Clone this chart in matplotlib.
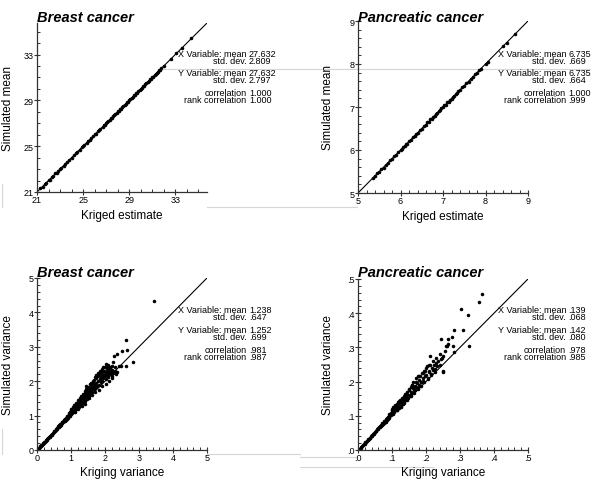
"""Kriged vs simulated mean and variance, breast and pancreatic cancer."""

import matplotlib
matplotlib.use('Agg')
import matplotlib.pyplot as plt
from matplotlib.lines import Line2D
from matplotlib.ticker import FixedLocator

plt.rcParams['font.family'] = ['Liberation Sans', 'DejaVu Sans']

# ---- data ----
breast_mean_krig = [21.3, 21.5, 21.7, 21.8, 22.0, 22.1, 22.3, 22.4, 22.6, 22.7,
                    22.8, 23.0, 23.1, 23.3, 23.4, 23.6, 23.8, 24.0, 24.2, 24.4,
                    24.5, 24.7, 24.9, 25.0, 25.1, 25.3, 25.4, 25.6, 25.7, 25.9,
                    26.0, 26.1, 26.3, 26.4, 26.5, 26.7, 26.8, 26.9, 27.0, 27.1,
                    27.2, 27.3, 27.4, 27.5, 27.6, 27.7, 27.8, 27.9, 28.0, 28.1,
                    28.2, 28.3, 28.4, 28.5, 28.6, 28.7, 28.8, 28.9, 29.0, 29.1,
                    29.2, 29.3, 29.4, 29.5, 29.6, 29.7, 29.8, 29.9, 30.0, 30.1,
                    30.2, 30.3, 30.4, 30.5, 30.6, 30.7, 30.8, 30.9, 31.0, 31.1,
                    31.2, 31.3, 31.4, 31.5, 31.6, 31.7, 31.8, 32.0, 32.6, 33.1,
                    33.6, 34.4]
breast_mean_sim = [21.32, 21.47, 21.73, 21.78, 22.04, 22.08, 22.33, 22.37, 22.62, 22.68,
                   22.84, 22.97, 23.12, 23.27, 23.43, 23.58, 23.83, 23.97, 24.22, 24.38,
                   24.53, 24.68, 24.93, 24.98, 25.13, 25.28, 25.43, 25.57, 25.73, 25.88,
                   26.03, 26.08, 26.33, 26.37, 26.53, 26.68, 26.83, 26.88, 27.03, 27.07,
                   27.23, 27.28, 27.43, 27.47, 27.63, 27.68, 27.83, 27.87, 28.03, 28.08,
                   28.23, 28.27, 28.43, 28.47, 28.63, 28.68, 28.83, 28.87, 29.03, 29.08,
                   29.23, 29.27, 29.43, 29.47, 29.63, 29.68, 29.83, 29.87, 30.03, 30.08,
                   30.23, 30.27, 30.43, 30.47, 30.63, 30.67, 30.83, 30.87, 31.03, 31.07,
                   31.23, 31.27, 31.42, 31.47, 31.62, 31.67, 31.82, 31.98, 32.6, 33.12,
                   33.6, 34.42]

panc_mean_krig = [5.35, 5.4, 5.45, 5.5, 5.55, 5.6, 5.65, 5.7, 5.75, 5.8,
                  5.85, 5.9, 5.95, 6.0, 6.03, 6.06, 6.1, 6.13, 6.16, 6.2,
                  6.25, 6.3, 6.33, 6.36, 6.4, 6.45, 6.5, 6.55, 6.6, 6.63,
                  6.66, 6.7, 6.73, 6.76, 6.8, 6.83, 6.86, 6.9, 6.93, 6.96,
                  7.0, 7.03, 7.06, 7.1, 7.13, 7.16, 7.2, 7.23, 7.26, 7.3,
                  7.33, 7.36, 7.4, 7.45, 7.5, 7.55, 7.6, 7.65, 7.7, 7.75,
                  7.8, 7.85, 7.9, 8.0, 8.05, 8.4, 8.5, 8.7]
panc_mean_sim = [5.36, 5.39, 5.46, 5.49, 5.56, 5.59, 5.66, 5.69, 5.76, 5.79,
                 5.86, 5.89, 5.96, 6.01, 6.02, 6.07, 6.09, 6.14, 6.15, 6.21,
                 6.24, 6.31, 6.32, 6.37, 6.39, 6.46, 6.49, 6.56, 6.59, 6.64,
                 6.65, 6.71, 6.72, 6.77, 6.79, 6.84, 6.85, 6.91, 6.92, 6.97,
                 6.99, 7.04, 7.05, 7.11, 7.12, 7.17, 7.19, 7.24, 7.25, 7.31,
                 7.32, 7.37, 7.39, 7.46, 7.49, 7.56, 7.59, 7.66, 7.69, 7.76,
                 7.79, 7.86, 7.89, 8.01, 8.04, 8.41, 8.5, 8.69]

breast_var_krig = [0.03, 0.05, 0.07, 0.09, 0.1, 0.12, 0.13, 0.15, 0.17, 0.18,
                   0.2, 0.22, 0.23, 0.25, 0.27, 0.28, 0.3, 0.32, 0.33, 0.35,
                   0.37, 0.39, 0.41, 0.43, 0.45, 0.47, 0.49, 0.51, 0.53, 0.55,
                   0.57, 0.59,
                   0.6, 0.62, 0.63, 0.65, 0.66, 0.68, 0.69, 0.7, 0.72, 0.73,
                   0.74, 0.75, 0.77, 0.78, 0.79, 0.8, 0.82, 0.83, 0.84, 0.85,
                   0.86, 0.87, 0.88, 0.89, 0.9, 0.91, 0.92, 0.93, 0.94, 0.95,
                   0.96, 0.97, 0.98, 0.99, 1.0, 1.01, 1.02, 1.03, 1.04, 1.05,
                   1.06, 1.07, 1.08, 1.09, 1.1, 1.11, 1.12, 1.13, 1.14, 1.15,
                   1.16, 1.17, 1.18, 1.19, 1.2, 1.21, 1.22, 1.23, 1.24, 1.25,
                   1.26, 1.27, 1.28, 1.29, 1.3,
                   1.31, 1.32, 1.33, 1.34, 1.35, 1.36, 1.37, 1.38, 1.39, 1.4,
                   1.41, 1.42, 1.43, 1.44, 1.45, 1.46, 1.47, 1.48, 1.49, 1.5,
                   1.51, 1.52, 1.53, 1.55, 1.56, 1.57, 1.58, 1.6, 1.61, 1.62,
                   1.63, 1.65, 1.66, 1.68, 1.7,
                   1.69, 1.72, 1.74, 1.75, 1.77, 1.78, 1.8, 1.82, 1.84, 1.85,
                   1.87, 1.88, 1.9, 1.92, 1.94, 1.95, 1.97, 1.99, 2.0, 2.02,
                   2.04, 2.05, 2.07, 2.09, 2.1, 2.12, 2.14, 2.16, 2.18, 2.2,
                   2.22, 2.25, 2.28, 2.32, 2.36,
                   2.03, 2.25, 2.26, 2.35, 2.47, 2.51, 2.61, 2.62, 2.65, 2.81,
                   3.44, 2.1, 2.4,
                   0.82, 0.88, 0.95, 1.0, 1.05, 1.1, 1.15, 1.2, 1.25, 1.3,
                   1.35, 1.4, 1.45, 1.5, 1.55, 1.6, 1.65, 1.7, 1.75, 1.8,
                   1.85, 1.9, 1.95, 2.0, 2.05, 2.1, 2.15, 2.2, 2.3, 1.12,
                   1.22, 1.32, 1.42, 1.52, 1.62, 1.72, 1.82, 1.92, 2.02, 2.12,
                   2.22]
breast_var_sim = [0.02, 0.05, 0.07, 0.09, 0.11, 0.12, 0.14, 0.15, 0.18, 0.19,
                  0.21, 0.23, 0.24, 0.26, 0.28, 0.3, 0.31, 0.34, 0.35, 0.37,
                  0.38, 0.41, 0.43, 0.45, 0.47, 0.49, 0.51, 0.54, 0.55, 0.58,
                  0.6, 0.62,
                  0.64, 0.66, 0.7, 0.68, 0.72, 0.71, 0.76, 0.74, 0.75, 0.8,
                  0.78, 0.82, 0.8, 0.86, 0.83, 0.88, 0.85, 0.9, 0.87, 0.92,
                  0.9, 0.95, 0.91, 0.97, 0.93, 1.0, 0.96, 1.03, 0.98, 1.06,
                  1.02, 1.1, 0.99, 1.14, 1.05, 1.2, 1.08, 1.15, 1.12, 1.22,
                  1.1, 1.18, 1.26, 1.13, 1.21, 1.16, 1.3, 1.2, 1.25, 1.19,
                  1.34, 1.24, 1.28, 1.22, 1.36, 1.27, 1.31, 1.4, 1.25, 1.33,
                  1.3, 1.42, 1.35, 1.38, 1.32,
                  1.45, 1.38, 1.52, 1.41, 1.48, 1.36, 1.56, 1.46, 1.6, 1.5,
                  1.43, 1.66, 1.53, 1.85, 1.58, 1.49, 1.62, 1.7, 1.55, 1.64,
                  1.75, 1.58, 1.68, 1.8, 1.62, 1.72, 1.9, 1.66, 1.78, 1.85,
                  1.7, 1.82, 1.95, 1.76, 1.88,
                  2.04, 1.8, 1.95, 2.1, 1.86, 2.0, 2.15, 1.9, 2.05, 2.22,
                  1.98, 2.12, 2.26, 2.02, 2.18, 2.08, 2.3, 2.14, 2.22, 2.05,
                  2.28, 2.18, 2.35, 2.12, 2.24, 2.3, 2.2, 2.38, 2.26, 2.16,
                  2.32, 2.25, 2.3, 2.22, 2.28,
                  2.5, 2.57, 2.72, 2.79, 2.43, 2.87, 2.43, 3.21, 2.91, 2.57,
                  4.34, 2.47, 2.45,
                  0.9, 0.98, 1.08, 1.16, 1.24, 1.3, 1.38, 1.46, 1.5, 1.58,
                  1.64, 1.72, 1.76, 1.82, 1.92, 1.96, 2.02, 2.12, 2.18, 2.25,
                  2.3, 2.35, 2.42, 2.4, 2.44, 2.38, 2.42, 2.45, 2.4, 1.1,
                  1.18, 1.28, 1.35, 1.5, 1.6, 1.68, 1.75, 1.86, 1.92, 2.02,
                  2.1]

panc_var_krig = [.005, .008, .01, .012, .015, .017, .02, .022, .024, .026,
                 .028, .03, .032, .034, .036, .038, .04, .042, .044, .046,
                 .048, .05, .052, .054, .056, .058, .06,
                 .062, .064, .065, .067, .068, .07, .071, .073, .074, .075,
                 .077, .078, .08, .081, .082, .084, .085, .087, .088, .09,
                 .091, .092, .094, .095, .097, .098, .1,
                 .101, .103, .104, .106, .107, .108, .11, .111, .112, .114,
                 .115, .116, .118, .119, .12, .122, .123, .124, .126, .127,
                 .128, .13, .131, .132, .134, .135, .136, .138, .139, .14,
                 .142, .143, .144, .146, .148, .15,
                 .151, .153, .155, .156, .158, .16, .162, .163, .165, .167,
                 .169, .17, .172, .174, .176, .178, .18, .182, .184, .186,
                 .188, .19, .192, .195, .197, .2, .202, .205, .208, .21,
                 .213, .215, .218, .22,
                 .223, .226, .23, .233, .236, .24, .243, .246, .25, .251,
                 .255, .26, .266, .275, .243, .261, .249, .212, .197, .177,
                 .158,
                 .364, .356, .303, .323, .310, .282, .327, .282, .266, .278,
                 .09, .1, .11, .12, .13, .14, .15, .16, .17, .18,
                 .19, .2, .21, .22, .23, .24, .115, .125, .135, .145,
                 .155, .165, .175, .185, .195, .205, .215, .225]
panc_var_sim = [.004, .007, .01, .012, .014, .017, .019, .022, .024, .025,
                .028, .031, .033, .035, .036, .04, .042, .043, .046, .048,
                .051, .052, .055, .056, .06, .061, .064,
                .066, .07, .068, .074, .071, .073, .079, .076, .08, .078,
                .084, .082, .086, .083, .09, .088, .094, .09, .097, .095,
                .1, .098, .104, .101, .108, .103, .112,
                .118, .106, .125, .112, .12, .13, .116, .128, .122, .135,
                .118, .132, .126, .14, .124, .136, .145, .13, .14, .128,
                .15, .138, .145, .135, .158, .142, .15, .165, .145, .155,
                .148, .162, .17, .152, .16, .158,
                .175, .162, .185, .17, .19, .166, .18, .2, .176, .188,
                .174, .21, .185, .195, .18, .205, .19, .215, .198, .2,
                .225, .21, .202, .23, .215, .22, .245, .21, .232, .228,
                .25, .222, .24, .235,
                .25, .238, .255, .245, .26, .248, .325, .27, .232, .227,
                .29, .303, .325, .329, .265, .303, .274, .276, .232, .217,
                .19,
                .456, .434, .412, .395, .352, .352, .303, .287, .31, .303,
                .105, .12, .132, .142, .152, .165, .178, .188, .2, .215,
                .225, .24, .25, .26, .268, .28, .117, .127, .137, .147,
                .158, .168, .177, .188, .198, .208, .218, .228]

breast_mean_ticks = [21, 25, 29, 33]
panc_mean_ticks = [5, 6, 7, 8, 9]
breast_var_ticks = [0, 1, 2, 3, 4, 5]
panc_var_ticks = [0, .1, .2, .3, .4, .5]
panc_var_ticklabels = ['.0', '.1', '.2', '.3', '.4', '.5']

stat_labels = ['X Variable: mean', 'std. dev.', 'Y Variable: mean', 'std. dev.',
               'correlation', 'rank correlation']
breast_mean_stats = ['27.632', '2.809', '27.632', '2.797', '1.000', '1.000']
panc_mean_stats = ['6.735', '.669', '6.735', '.664', '1.000', '.999']
breast_var_stats = ['1.238', '.647', '1.252', '.699', '.981', '.987']
panc_var_stats = ['.139', '.068', '.142', '.080', '.978', '.985']

# ---- layout in pixels ----
W, H = 600, 481
fig = plt.figure(figsize=(W / 100, H / 100), dpi=100)


def fx(x):
    return x / W


def fy(y):
    return 1 - y / H


def panel(box, xs, ys, lim, ticks, minor_step, ticklabels, title, xlabel,
          ylabel, stats, col_x, stat_y, ylab_x, xlab_y):
    left, top, right, bottom = box
    ax = fig.add_axes([fx(left), fy(bottom), (right - left) / W,
                       (bottom - top) / H])
    ax.plot(lim, lim, color='black', lw=0.8, zorder=1)
    ax.scatter(xs, ys, s=6.5, c='black', linewidths=0, zorder=2)
    ax.set_xlim(lim)
    ax.set_ylim(lim)
    for s in ['top', 'right']:
        ax.spines[s].set_visible(False)
    for s in ['left', 'bottom']:
        ax.spines[s].set_color('#333333')
        ax.spines[s].set_linewidth(0.9)
    minor = []
    v = lim[0]
    while v < lim[1] + 1e-9:
        minor.append(v)
        v += minor_step
    for axis in (ax.xaxis, ax.yaxis):
        axis.set_major_locator(FixedLocator(ticks))
        axis.set_minor_locator(FixedLocator(minor))
    ax.set_xticklabels(ticklabels)
    ax.set_yticklabels(ticklabels)
    ax.tick_params(which='major', direction='inout', length=4, width=0.8,
                   color='#333333', labelsize=6.5, pad=0.5)
    ax.tick_params(which='minor', direction='in', length=2.5, width=0.7,
                   color='#333333')
    ax.patch.set_alpha(0)

    fig.text(fx(left), fy(title[1]), title[0], fontsize=10.5,
             fontweight='bold', fontstyle='italic', va='center', ha='left')
    fig.text(fx((left + right) / 2), fy(xlab_y), xlabel, fontsize=8.5,
             ha='center', va='center')
    fig.text(fx(ylab_x), fy((top + bottom) / 2), ylabel, fontsize=8.5,
             rotation=90, ha='center', va='center')
    # stats: three blocks of two tight lines, labels right, values left
    for k in range(3):
        y = (stat_y[2 * k] + stat_y[2 * k + 1]) / 2
        labs = '\n'.join(stat_labels[2 * k:2 * k + 2])
        vals = '\n'.join(stats[2 * k:2 * k + 2])
        fig.text(fx(col_x), fy(y), labs, fontsize=6.5, ha='right',
                 va='center', multialignment='right', linespacing=0.78)
        fig.text(fx(col_x + 2.5), fy(y), vals, fontsize=6.5, ha='left',
                 va='center', multialignment='left', linespacing=0.78)
    return ax


top_stat_y = [55, 61.5, 74, 80.5, 93.5, 100]
bot_stat_y = [311, 317.5, 330.5, 337, 350.5, 357]

panel((37, 24, 207, 193), breast_mean_krig, breast_mean_sim, (21, 35.75),
      breast_mean_ticks, 1, [str(t) for t in breast_mean_ticks],
      ('Breast cancer', 18), 'Kriged estimate', 'Simulated mean',
      breast_mean_stats, 246.5, top_stat_y, 8, 216)
panel((358, 22, 528, 194), panc_mean_krig, panc_mean_sim, (5, 9),
      panc_mean_ticks, 0.2, [str(t) for t in panc_mean_ticks],
      ('Pancreatic cancer', 18), 'Kriged estimate', 'Simulated mean',
      panc_mean_stats, 566, top_stat_y, 328, 217)
panel((37, 279, 207, 451), breast_var_krig, breast_var_sim, (0, 5),
      breast_var_ticks, 0.2, [str(t) for t in breast_var_ticks],
      ('Breast cancer', 273), 'Kriging variance', 'Simulated variance',
      breast_var_stats, 246.5, bot_stat_y, 8, 473)
panel((358, 280, 528, 451), panc_var_krig, panc_var_sim, (0, 0.5),
      panc_var_ticks, 0.02, panc_var_ticklabels,
      ('Pancreatic cancer', 273), 'Kriging variance', 'Simulated variance',
      panc_var_stats, 566, bot_stat_y, 328, 473)

# faint scan lines in the original
faint = [((163, 590), (70, 70)), ((207, 357), (208, 208)),
         ((2, 2), (185, 208)), ((207, 300), (455, 455)),
         ((300, 357), (458, 458)), ((300, 433), (468, 468)),
         ((2, 2), (430, 455))]
for xx, yy in faint:
    fig.add_artist(Line2D([fx(v) for v in xx], [fy(v) for v in yy],
                          color='#d6d6d6', lw=0.8, zorder=0))

fig.savefig('out.png', dpi=100)
